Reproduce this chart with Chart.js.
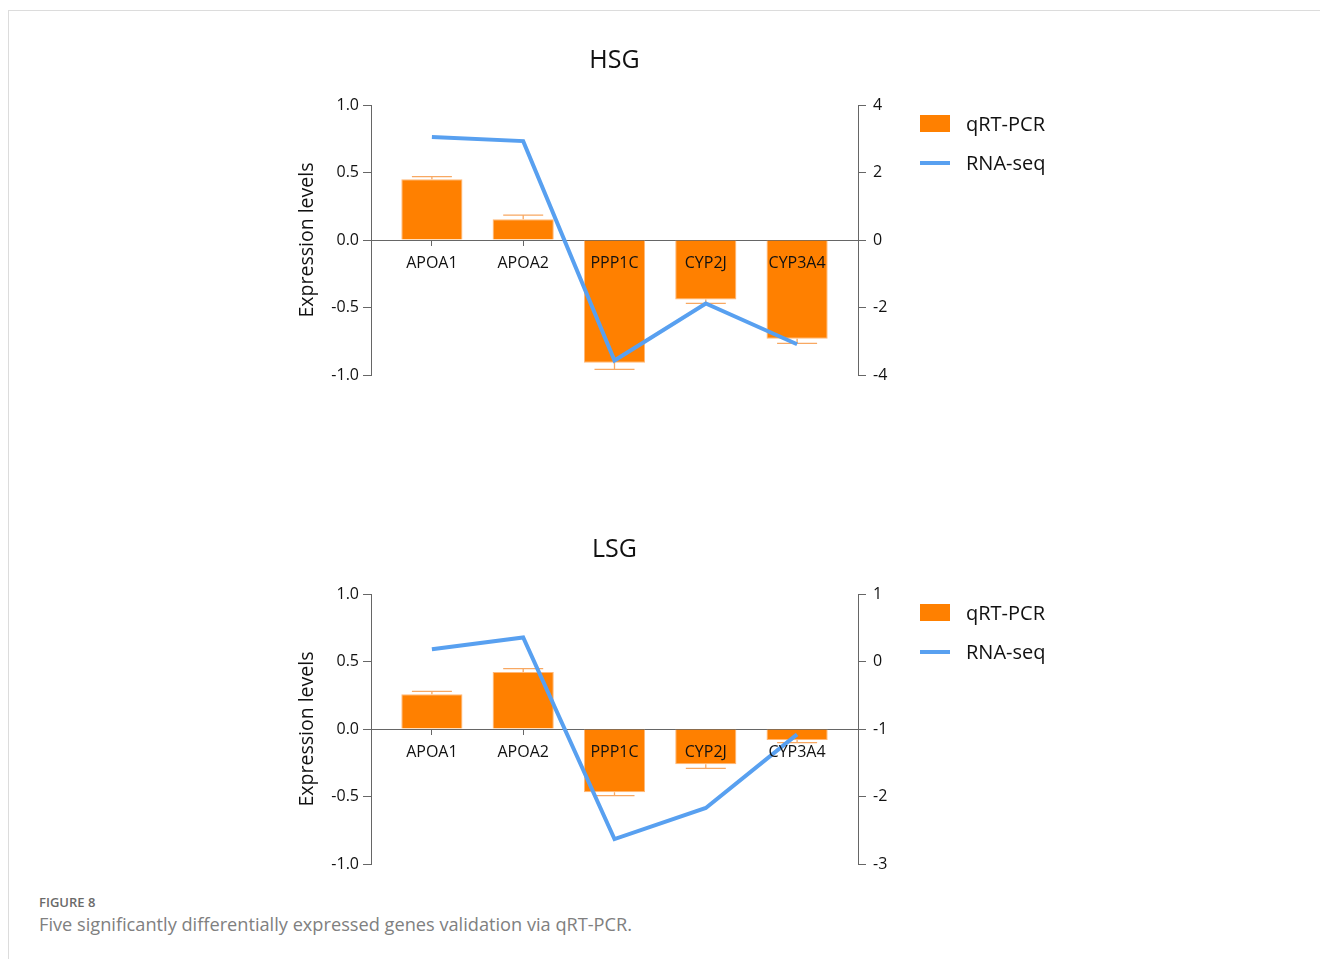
<!DOCTYPE html>
<html>
<head>
<meta charset="utf-8">
<script src="https://cdn.jsdelivr.net/npm/chart.js@4.4.1/dist/chart.umd.min.js"></script>
<style>
  body { margin: 0; background: #fff; font-family: "Open Sans", sans-serif; }
  #page { position: relative; width: 1320px; height: 959px; overflow: hidden; }
  .frame { position: absolute; left: 8px; top: 10px; width: 1400px; height: 1000px;
           border-top: 1px solid #dcdcdc; border-left: 1px solid #dcdcdc; }
  .panel { position: absolute; left: 0; width: 1320px; height: 394px; }
  .legend { position: absolute; left: 920px; top: 0; font-size: 20px; color: #111; }
  .legend div { position: absolute; white-space: nowrap; }
  .sw-bar { left: 0; top: 114px; width: 30px; height: 17px; background: #ff8000; }
  .sw-line { left: 0; top: 160px; width: 30px; height: 4px; background: #58a0f0; }
  .lb1 { left: 46px; top: 109px; }
  .lb2 { left: 46px; top: 148px; }
  .cap1 { position: absolute; left: 39px; top: 893px; font-size: 13px; font-weight: 600; color: #6a6a6a; }
  .cap2 { position: absolute; left: 39px; top: 912px; font-size: 18.2px; color: #808080; }
</style>
</head>
<body>
<div id="page">
  <div class="frame"></div>
  <div class="panel" style="top:1px">
    <canvas id="hsg" width="1320" height="394"></canvas>
    <div class="legend">
      <div class="sw-bar"></div><div class="lb1">qRT-PCR</div>
      <div class="sw-line"></div><div class="lb2">RNA-seq</div>
    </div>
  </div>
  <div class="panel" style="top:490px">
    <canvas id="lsg" width="1320" height="394"></canvas>
    <div class="legend">
      <div class="sw-bar"></div><div class="lb1">qRT-PCR</div>
      <div class="sw-line"></div><div class="lb2">RNA-seq</div>
    </div>
  </div>
  <div class="cap1">FIGURE 8</div>
  <div class="cap2">Five significantly differentially expressed genes validation via qRT-PCR.</div>
</div>
<script>
const genes = ['APOA1', 'APOA2', 'PPP1C', 'CYP2J', 'CYP3A4'];

const hsgQpcr = [0.45, 0.153, -0.909, -0.44, -0.731];
const hsgQpcrErr = [0.02, 0.032, 0.05, 0.03, 0.034];
const hsgRnaSeq = [3.05, 2.93, -3.57, -1.88, -3.09];

const lsgQpcr = [0.257, 0.422, -0.469, -0.262, -0.081];
const lsgQpcrErr = [0.022, 0.025, 0.025, 0.029, 0.02];
const lsgRnaSeq = [0.18, 0.355, -2.63, -2.17, -1.08];

const leftTicks = [-1, -0.5, 0, 0.5, 1];
const hsgRightTicks = [-4, -2, 0, 2, 4];
const lsgRightTicks = [-3, -2, -1, 0, 1];

const ORANGE = '#ff8000';
const BLUE = '#58a0f0';
const AXIS = '#666';
const TEXT = '#111';

Chart.defaults.font.family = '"Open Sans", sans-serif';

// error bars on the qRT-PCR bars, drawn right after the bars so the line stays on top
const errorBars = {
  id: 'errorBars',
  afterDatasetDraw(chart, args) {
    if (args.index !== 0) return;
    const ds = chart.data.datasets[0];
    const yScale = chart.scales.y;
    const ctx = chart.ctx;
    ctx.save();
    ctx.strokeStyle = '#f8a862';
    ctx.lineWidth = 1.3;
    args.meta.data.forEach((bar, i) => {
      const v = ds.data[i].y;
      const py = yScale.getPixelForValue(v + Math.sign(v) * ds.errors[i]);
      ctx.beginPath();
      ctx.moveTo(bar.x, bar.y);
      ctx.lineTo(bar.x, py);
      ctx.moveTo(bar.x - 20, py);
      ctx.lineTo(bar.x + 20, py);
      ctx.stroke();
    });
    ctx.restore();
  },
};

function makeChart(id, title, qpcr, errs, rnaSeq, rightTicks) {
  const tickFont = { size: 16 };
  return new Chart(document.getElementById(id), {
    type: 'bar',
    data: {
      datasets: [
        {
          label: 'qRT-PCR',
          data: genes.map((g, i) => ({ x: i, y: qpcr[i] })),
          errors: errs,
          backgroundColor: ORANGE,
          borderColor: '#ffb878',
          borderWidth: 1,
          categoryPercentage: 0.67,
          barPercentage: 1,
          yAxisID: 'y',
          order: 2,
        },
        {
          type: 'line',
          label: 'RNA-seq',
          data: genes.map((g, i) => ({ x: i, y: rnaSeq[i] })),
          borderColor: BLUE,
          backgroundColor: BLUE,
          borderWidth: 4,
          pointRadius: 0,
          tension: 0,
          yAxisID: 'y1',
          order: 1,
        },
      ],
    },
    options: {
      responsive: false,
      animation: false,
      layout: { padding: { left: 290, right: 381, top: 0, bottom: 20 } },
      plugins: {
        legend: { display: false },
        tooltip: { enabled: false },
        title: {
          display: true,
          text: title,
          color: TEXT,
          font: { size: 25, weight: 'normal' },
          padding: { top: 45, bottom: 29 },
        },
      },
      scales: {
        x: {
          type: 'linear',
          min: -0.667,
          max: 4.667,
          offset: false,
          position: { y: 0 },
          afterBuildTicks: (s) => { s.ticks = genes.map((g, i) => ({ value: i })); },
          ticks: { callback: (v) => genes[v], color: TEXT, font: tickFont, padding: 9, autoSkip: false, maxRotation: 0, z: 1 },
          grid: { drawOnChartArea: false, offset: false, tickLength: 5, color: AXIS },
          border: { color: AXIS },
        },
        y: {
          position: 'left',
          min: -1,
          max: 1,
          afterBuildTicks: (s) => { s.ticks = leftTicks.map((v) => ({ value: v })); },
          afterFit: (s) => { s.width = 81; },
          ticks: { callback: (v) => v.toFixed(1), color: TEXT, font: tickFont, padding: 4 },
          grid: { drawOnChartArea: false, tickLength: 8, color: AXIS },
          border: { color: AXIS },
          title: { display: true, text: 'Expression levels', color: TEXT, font: { size: 19.5 }, padding: { top: 6, bottom: 0 } },
        },
        y1: {
          position: 'right',
          min: rightTicks[0],
          max: rightTicks[rightTicks.length - 1],
          afterBuildTicks: (s) => { s.ticks = rightTicks.map((v) => ({ value: v })); },
          afterFit: (s) => { s.width = 81; },
          ticks: { color: TEXT, font: tickFont, padding: 7 },
          grid: { drawOnChartArea: false, tickLength: 8, color: AXIS },
          border: { color: AXIS },
        },
      },
    },
    plugins: [errorBars],
  });
}

makeChart('hsg', 'HSG', hsgQpcr, hsgQpcrErr, hsgRnaSeq, hsgRightTicks);
makeChart('lsg', 'LSG', lsgQpcr, lsgQpcrErr, lsgRnaSeq, lsgRightTicks);
</script>
</body>
</html>
